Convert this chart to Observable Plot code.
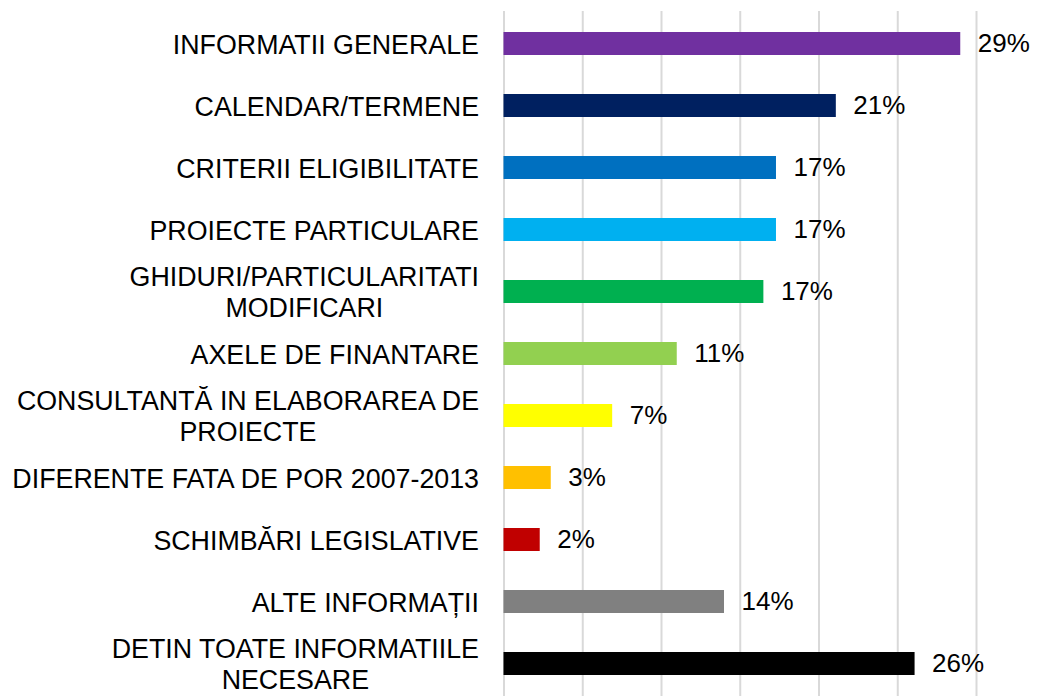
<!DOCTYPE html>
<html>
<head>
<meta charset="utf-8">
<script src="https://cdn.jsdelivr.net/npm/d3@7"></script>
<script src="https://cdn.jsdelivr.net/npm/@observablehq/plot@0.6"></script>
<style>
  html, body { margin: 0; padding: 0; background: #fff; overflow: hidden; }
</style>
</head>
<body>
<div id="chart"></div>
<script>
const categories = [
  "INFORMATII GENERALE",
  "CALENDAR/TERMENE",
  "CRITERII ELIGIBILITATE",
  "PROIECTE PARTICULARE",
  "GHIDURI/PARTICULARITATI\nMODIFICARI",
  "AXELE DE FINANTARE",
  "CONSULTANTĂ IN ELABORAREA DE\nPROIECTE",
  "DIFERENTE FATA DE POR 2007-2013",
  "SCHIMBĂRI LEGISLATIVE",
  "ALTE INFORMAȚII",
  "DETIN TOATE INFORMATIILE\nNECESARE"
];
const values = [29.0, 21.1, 17.3, 17.3, 16.5, 11.0, 6.9, 3.0, 2.3, 14.0, 26.1];
const valueLabels = ["29%", "21%", "17%", "17%", "17%", "11%", "7%", "3%", "2%", "14%", "26%"];
const barColors = ["#7030A0", "#002060", "#0070C0", "#00B0F0", "#00B050", "#92D050", "#FFFF00", "#FFC000", "#C00000", "#808080", "#000000"];
const xTicks = [0, 5, 10, 15, 20, 25, 30];

const data = categories.map((c, i) => ({category: c, value: values[i], label: valueLabels[i]}));

const chart = Plot.plot({
  width: 1049,
  height: 696,
  marginLeft: 503.5,
  marginRight: 73,
  marginTop: 11,
  marginBottom: 0,
  style: {fontFamily: "'Liberation Sans', Arial, sans-serif", fontSize: "26px", color: "#000", background: "#fff"},
  x: {domain: [0, 30], axis: null},
  y: {domain: categories, paddingInner: 0.63, paddingOuter: 0.315, axis: null},
  color: {domain: categories, range: barColors},
  marks: [
    Plot.gridX(xTicks, {stroke: "#d9d9d9", strokeOpacity: 1, strokeWidth: 2}),
    Plot.barX(data, {x: "value", y: "category", fill: "category"}),
    Plot.text(data, {x: "value", y: "category", text: "label", textAnchor: "start", dx: 17, fontSize: 26, fill: "#000"}),
    Plot.axisY({tickSize: 0, tickPadding: 25, fontSize: 26.8, lineHeight: 1.16, label: null, fill: "#000"})
  ]
});
document.getElementById("chart").appendChild(chart);

// Center multi-line category labels within their block (right edge kept at axis padding)
chart.querySelectorAll("text").forEach(function(el) {
  const tspans = el.querySelectorAll("tspan");
  if (tspans.length > 1) {
    const w = el.getBBox().width;
    el.setAttribute("text-anchor", "middle");
    el.style.textAnchor = "middle";
    const t = el.getAttribute("transform") || "";
    el.setAttribute("transform", t + ` translate(${-w / 2},0)`);
  }
});
</script>
</body>
</html>
